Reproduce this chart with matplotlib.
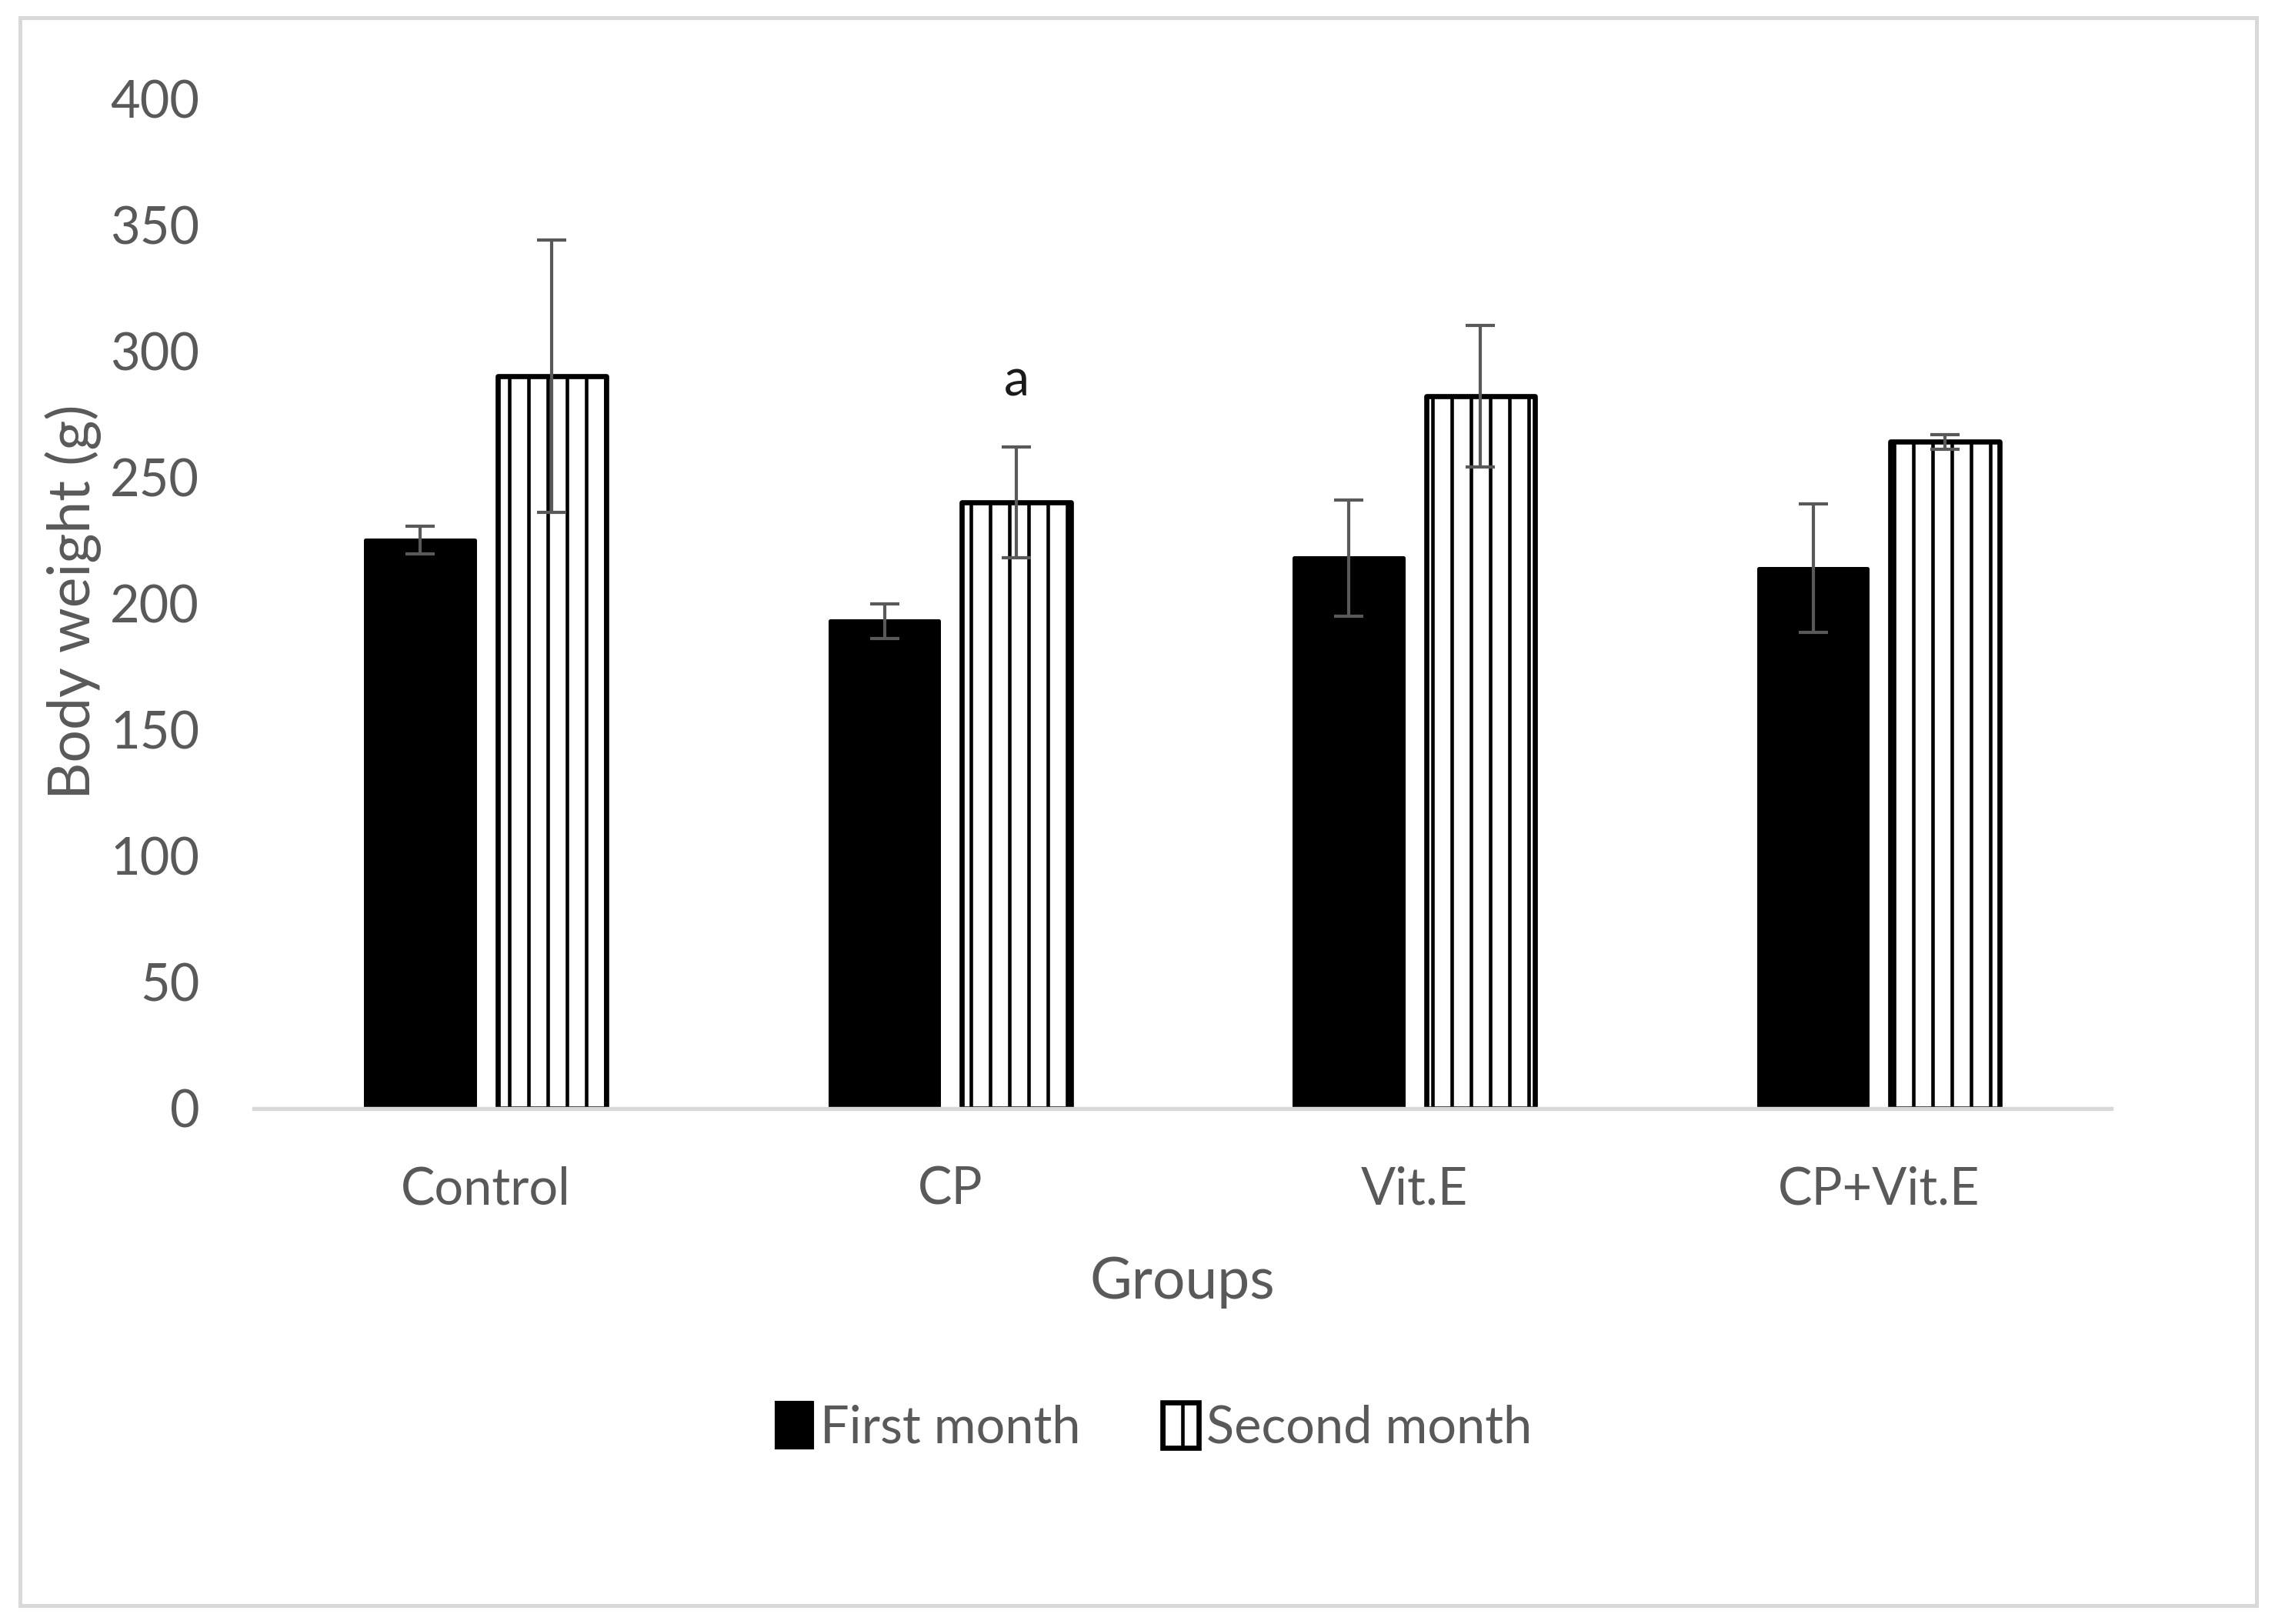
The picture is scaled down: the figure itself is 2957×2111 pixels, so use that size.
import matplotlib
matplotlib.use("Agg")
import matplotlib.pyplot as plt
import numpy as np
from matplotlib.patches import Rectangle, Patch

groups = ["Control", "CP", "Vit.E", "CP+Vit.E"]
first_month = [225, 193, 218, 214]
first_err = [5.5, 7, 23, 25.5]
second_month = [290, 240, 282, 264]
second_err = [54, 22, 28, 3]
series_names = ["First month", "Second month"]
annotation_text = "a"
annotation_value = 288
yticks = [0, 50, 100, 150, 200, 250, 300, 350, 400]

plt.rcParams['font.family'] = ['Lato', 'DejaVu Sans']
plt.rcParams['hatch.linewidth'] = 1.1

W, H, DPI = 2957, 2111, 300
fig = plt.figure(figsize=(W / DPI, H / DPI), dpi=DPI)
fig.patch.set_facecolor("white")

ax_left, ax_right, ax_bottom, ax_top = 330, 2744, 1441, 128
ax = fig.add_axes([ax_left / W, 1 - ax_bottom / H, (ax_right - ax_left) / W, (ax_bottom - ax_top) / H])

x = np.arange(len(groups))
bw = 0.234
off = 0.142
txt = "#595959"

ax.bar(x - off, first_month, width=bw, color="black", edgecolor="black",
       linewidth=1.2, joinstyle="round", zorder=2, label=series_names[0])
ax.bar(x + off, second_month, width=bw, color="white", edgecolor="black",
       hatch="||", linewidth=1.6, joinstyle="round", zorder=2, label=series_names[1])

ax.errorbar(x - off, first_month, yerr=first_err, fmt="none", ecolor="#595959",
            elinewidth=1.0, capsize=4.5, capthick=1.0, zorder=3)
ax.errorbar(x + off, second_month, yerr=second_err, fmt="none", ecolor="#595959",
            elinewidth=1.0, capsize=4.5, capthick=1.0, zorder=3)

ax.text(x[1] + off, annotation_value, annotation_text, ha="center", va="center",
        fontsize=16, color="#1a1a1a", zorder=4)

ax.set_xlim(-0.5, len(groups) - 0.5)
ax.set_ylim(0, 400)
ax.set_yticks(yticks)
ax.set_xticks(x)
ax.set_xticklabels(groups)
for s in ["top", "right", "left"]:
    ax.spines[s].set_visible(False)
ax.spines["bottom"].set_color("#d9d9d9")
ax.spines["bottom"].set_linewidth(1.3)
ax.tick_params(axis="both", length=0, labelsize=16, labelcolor=txt)
ax.tick_params(axis="y", pad=17)
ax.tick_params(axis="x", pad=18)

ax.set_xlabel("Groups", fontsize=18, color=txt, labelpad=13)
ax.set_ylabel("Body weight (g)", fontsize=18, color=txt)
ax.yaxis.set_label_coords((132 - ax_left) / (ax_right - ax_left), 0.502)

handles = [Patch(facecolor="black", edgecolor="black", linewidth=1.0),
           Patch(facecolor="white", edgecolor="black", hatch="||", linewidth=1.6)]
leg = fig.legend(handles, series_names, loc="center", bbox_to_anchor=(1500 / W, 1 - 1855 / H),
                 ncol=2, frameon=False, fontsize=16, handlelength=0.7, handleheight=1.0,
                 handletextpad=0.15, columnspacing=1.6)
for t in leg.get_texts():
    t.set_color(txt)

fig.patches.append(Rectangle((26 / W, 1 - 2087 / H), (2933 - 26) / W, (2087 - 23) / H,
                             transform=fig.transFigure, fill=False, edgecolor="#d9d9d9",
                             linewidth=1.2, zorder=0))

fig.savefig("out.png", dpi=DPI, facecolor="white")
